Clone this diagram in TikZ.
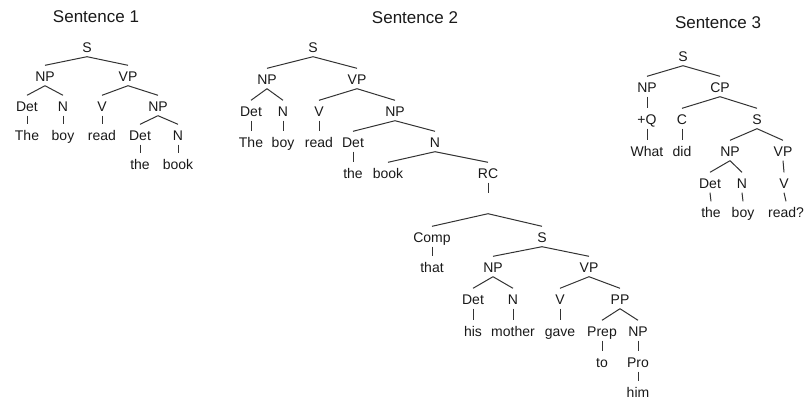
\documentclass[tikz,border=0pt]{standalone}
\usepackage{fontspec}
\setmainfont{Liberation Sans}
\usepackage{tikz}

\tikzset{
  lbl/.style={font=\fontsize{14}{15}\selectfont, text=black!90, inner sep=1.5pt,
    text height=9.5pt, text depth=2.5pt},
  heading/.style={font=\fontsize{17}{18}\selectfont, text=black!90},
  branch/.style={draw=black!80, line width=1pt}
}

\begin{document}
\begin{tikzpicture}[x=1pt, y=-1pt]
  \useasboundingbox (0,0) rectangle (805,405);
  % Headings
  \node[heading] (t1) at (96,17) {Sentence 1};
  \node[heading] (t2) at (415,18) {Sentence 2};
  \node[heading] (t3) at (718,23) {Sentence 3};

  % Sentence 1 labels
  \node[lbl] (a_s) at (87,49) {S};
  \node[lbl] (a_np) at (45,78) {NP};
  \node[lbl] (a_vp) at (128,78) {VP};
  \node[lbl] (a_det) at (27,108) {Det};
  \node[lbl] (a_n) at (63,108) {N};
  \node[lbl] (a_v) at (102,108) {V};
  \node[lbl] (a_np2) at (158,108) {NP};
  \node[lbl] (a_the) at (27,137) {The};
  \node[lbl] (a_boy) at (63,137) {boy};
  \node[lbl] (a_read) at (102,137) {read};
  \node[lbl] (a_det2) at (140,137) {Det};
  \node[lbl] (a_n2) at (178,137) {N};
  \node[lbl] (a_the2) at (140,166) {the};
  \node[lbl] (a_book) at (178,166) {book};
  % Sentence 1 branches
  \draw[branch] (a_s.south) -- ([yshift=5pt]a_np.north);
  \draw[branch] (a_s.south) -- ([yshift=5pt]a_vp.north);
  \draw[branch] (a_np.south) -- ([yshift=5pt]a_det.north);
  \draw[branch] (a_np.south) -- ([yshift=5pt]a_n.north);
  \draw[branch] (a_vp.south) -- ([yshift=5pt]a_v.north);
  \draw[branch] (a_vp.south) -- ([yshift=5pt]a_np2.north);
  \draw[branch] (a_det.south) -- ([yshift=5pt]a_the.north);
  \draw[branch] (a_n.south) -- ([yshift=5pt]a_boy.north);
  \draw[branch] (a_v.south) -- ([yshift=5pt]a_read.north);
  \draw[branch] (a_np2.south) -- ([yshift=5pt]a_det2.north);
  \draw[branch] (a_np2.south) -- ([yshift=5pt]a_n2.north);
  \draw[branch] (a_det2.south) -- ([yshift=5pt]a_the2.north);
  \draw[branch] (a_n2.south) -- ([yshift=5pt]a_book.north);

  % Sentence 2 labels
  \node[lbl] (b_s) at (313,49) {S};
  \node[lbl] (b_np) at (267,81) {NP};
  \node[lbl] (b_vp) at (357,81) {VP};
  \node[lbl] (b_det) at (251,113) {Det};
  \node[lbl] (b_n) at (283,113) {N};
  \node[lbl] (b_v) at (319,113) {V};
  \node[lbl] (b_np2) at (395,113) {NP};
  \node[lbl] (b_the) at (251,144) {The};
  \node[lbl] (b_boy) at (283,144) {boy};
  \node[lbl] (b_read) at (319,144) {read};
  \node[lbl] (b_det2) at (353,144) {Det};
  \node[lbl] (b_n2) at (435,144) {N};
  \node[lbl] (b_the2) at (353,175) {the};
  \node[lbl] (b_book) at (388,175) {book};
  \node[lbl] (b_rc) at (488,175) {RC};
  \node[lbl] (b_rcbar) at (488,206) {};
  \node[lbl] (b_comp) at (432,239) {Comp};
  \node[lbl] (b_s2) at (542,239) {S};
  \node[lbl] (b_that) at (432,269) {that};
  \node[lbl] (b_np3) at (493,269) {NP};
  \node[lbl] (b_vp2) at (589,269) {VP};
  \node[lbl] (b_det3) at (473,301) {Det};
  \node[lbl] (b_n3) at (513,301) {N};
  \node[lbl] (b_v2) at (560,301) {V};
  \node[lbl] (b_pp) at (620,301) {PP};
  \node[lbl] (b_his) at (473,333) {his};
  \node[lbl] (b_mother) at (513,333) {mother};
  \node[lbl] (b_gave) at (560,333) {gave};
  \node[lbl] (b_prep) at (602,333) {Prep};
  \node[lbl] (b_np4) at (638,333) {NP};
  \node[lbl] (b_to) at (602,364) {to};
  \node[lbl] (b_pro) at (638,364) {Pro};
  \node[lbl] (b_him) at (638,394) {him};
  % Sentence 2 branches
  \draw[branch] (b_s.south) -- ([yshift=5pt]b_np.north);
  \draw[branch] (b_s.south) -- ([yshift=5pt]b_vp.north);
  \draw[branch] (b_np.south) -- ([yshift=5pt]b_det.north);
  \draw[branch] (b_np.south) -- ([yshift=5pt]b_n.north);
  \draw[branch] (b_vp.south) -- ([yshift=5pt]b_v.north);
  \draw[branch] (b_vp.south) -- ([yshift=5pt]b_np2.north);
  \draw[branch] (b_det.south) -- ([yshift=5pt]b_the.north);
  \draw[branch] (b_n.south) -- ([yshift=5pt]b_boy.north);
  \draw[branch] (b_v.south) -- ([yshift=5pt]b_read.north);
  \draw[branch] (b_np2.south) -- ([yshift=5pt]b_det2.north);
  \draw[branch] (b_np2.south) -- ([yshift=5pt]b_n2.north);
  \draw[branch] (b_det2.south) -- ([yshift=5pt]b_the2.north);
  \draw[branch] (b_n2.south) -- ([yshift=5pt]b_book.north);
  \draw[branch] (b_n2.south) -- ([yshift=5pt]b_rc.north);
  \draw[branch] (b_rc.south) -- ([yshift=5pt]b_rcbar.north);
  \draw[branch] (b_rcbar.south) -- ([yshift=5pt]b_comp.north);
  \draw[branch] (b_rcbar.south) -- ([yshift=5pt]b_s2.north);
  \draw[branch] (b_comp.south) -- ([yshift=5pt]b_that.north);
  \draw[branch] (b_s2.south) -- ([yshift=5pt]b_np3.north);
  \draw[branch] (b_s2.south) -- ([yshift=5pt]b_vp2.north);
  \draw[branch] (b_np3.south) -- ([yshift=5pt]b_det3.north);
  \draw[branch] (b_np3.south) -- ([yshift=5pt]b_n3.north);
  \draw[branch] (b_vp2.south) -- ([yshift=5pt]b_v2.north);
  \draw[branch] (b_vp2.south) -- ([yshift=5pt]b_pp.north);
  \draw[branch] (b_det3.south) -- ([yshift=5pt]b_his.north);
  \draw[branch] (b_n3.south) -- ([yshift=5pt]b_mother.north);
  \draw[branch] (b_v2.south) -- ([yshift=5pt]b_gave.north);
  \draw[branch] (b_pp.south) -- ([yshift=5pt]b_prep.north);
  \draw[branch] (b_pp.south) -- ([yshift=5pt]b_np4.north);
  \draw[branch] (b_prep.south) -- ([yshift=5pt]b_to.north);
  \draw[branch] (b_np4.south) -- ([yshift=5pt]b_pro.north);
  \draw[branch] (b_pro.south) -- ([yshift=5pt]b_him.north);

  % Sentence 3 labels
  \node[lbl] (c_s) at (683,58) {S};
  \node[lbl] (c_np) at (647,89) {NP};
  \node[lbl] (c_cp) at (720,89) {CP};
  \node[lbl] (c_q) at (647,121) {+Q};
  \node[lbl] (c_c) at (682,121) {C};
  \node[lbl] (c_s2) at (757,121) {S};
  \node[lbl] (c_what) at (647,153) {What};
  \node[lbl] (c_did) at (682,153) {did};
  \node[lbl] (c_np2) at (730,153) {NP};
  \node[lbl] (c_vp) at (783,153) {VP};
  \node[lbl] (c_det) at (710,185) {Det};
  \node[lbl] (c_n) at (742,185) {N};
  \node[lbl] (c_v) at (784,185) {V};
  \node[lbl] (c_the) at (711,214) {the};
  \node[lbl] (c_boy) at (743,214) {boy};
  \node[lbl] (c_read) at (786,214) {read?};
  % Sentence 3 branches
  \draw[branch] (c_s.south) -- ([yshift=5pt]c_np.north);
  \draw[branch] (c_s.south) -- ([yshift=5pt]c_cp.north);
  \draw[branch] (c_np.south) -- ([yshift=5pt]c_q.north);
  \draw[branch] (c_cp.south) -- ([yshift=5pt]c_c.north);
  \draw[branch] (c_cp.south) -- ([yshift=5pt]c_s2.north);
  \draw[branch] (c_q.south) -- ([yshift=5pt]c_what.north);
  \draw[branch] (c_c.south) -- ([yshift=5pt]c_did.north);
  \draw[branch] (c_s2.south) -- ([yshift=5pt]c_np2.north);
  \draw[branch] (c_s2.south) -- ([yshift=5pt]c_vp.north);
  \draw[branch] (c_np2.south) -- ([yshift=5pt]c_det.north);
  \draw[branch] (c_np2.south) -- ([yshift=5pt]c_n.north);
  \draw[branch] (c_vp.south) -- ([yshift=5pt]c_v.north);
  \draw[branch] (c_det.south) -- ([yshift=5pt]c_the.north);
  \draw[branch] (c_n.south) -- ([yshift=5pt]c_boy.north);
  \draw[branch] (c_v.south) -- ([yshift=5pt]c_read.north);
\end{tikzpicture}
\end{document}
